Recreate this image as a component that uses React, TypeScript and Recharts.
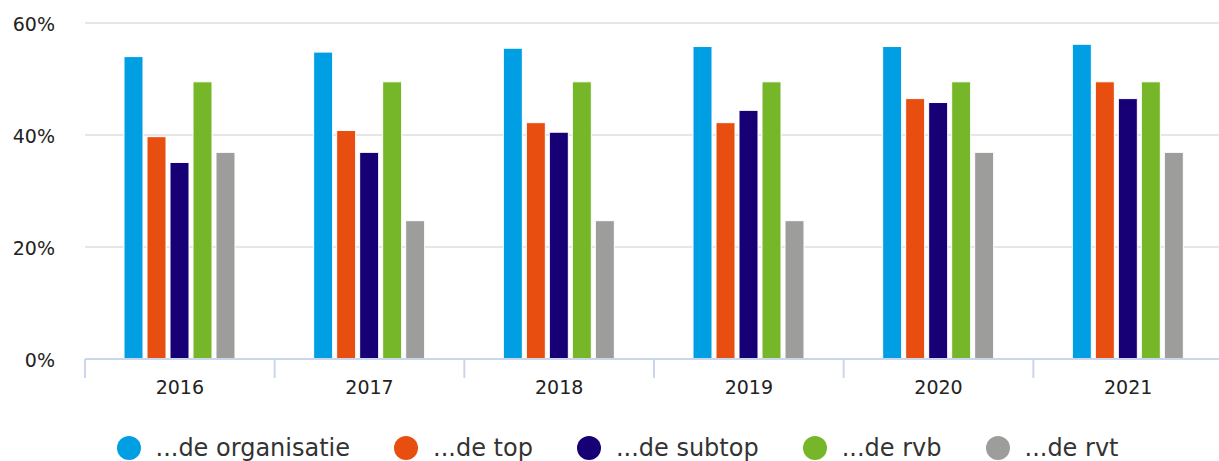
import React from 'react';
import { BarChart, Bar, XAxis, YAxis, CartesianGrid, Legend } from 'recharts';

const years = ['2016', '2017', '2018', '2019', '2020', '2021'];
const organisatie = [54.0, 54.8, 55.5, 55.8, 55.8, 56.2];
const top = [39.7, 40.8, 42.2, 42.2, 46.5, 49.5];
const subtop = [35.1, 36.9, 40.5, 44.4, 45.8, 46.5];
const rvb = [49.5, 49.5, 49.5, 49.5, 49.5, 49.5];
const rvt = [36.9, 24.7, 24.7, 24.7, 36.9, 36.9];
const yTicks = [0, 20, 40, 60];

const series = [
  { key: 'organisatie', name: '...de organisatie', color: '#009fe3' },
  { key: 'top', name: '...de top', color: '#e84e10' },
  { key: 'subtop', name: '...de subtop', color: '#170075' },
  { key: 'rvb', name: '...de rvb', color: '#76b72a' },
  { key: 'rvt', name: '...de rvt', color: '#9d9d9c' },
];

const data = years.map((year, i) => ({
  year,
  organisatie: organisatie[i],
  top: top[i],
  subtop: subtop[i],
  rvb: rvb[i],
  rvt: rvt[i],
}));

const FONT = '"DejaVu Sans", Verdana, sans-serif';
const AXIS_COLOR = '#ccd6eb';

const YTick = ({ x, y, payload }: any) => (
  <text x={x} y={y + 7.5} textAnchor="end" fontSize={19} fontFamily={FONT} fill="#222">
    {payload.value}%
  </text>
);

const XTick = ({ x, y, payload, index, visibleTicksCount }: any) => {
  const half = payload.offset || 0;
  const isLast = index === visibleTicksCount - 1;
  return (
    <g>
      <line x1={x - half} x2={x - half} y1={y} y2={y + 19} stroke={AXIS_COLOR} strokeWidth={2} />
      {isLast && <line x1={x + half} x2={x + half} y1={y} y2={y + 19} stroke={AXIS_COLOR} strokeWidth={2} />}
      <text x={x} y={y + 35} textAnchor="middle" fontSize={19} fontFamily={FONT} fill="#222">
        {payload.value}
      </text>
    </g>
  );
};

// legend follows the series order, not recharts' sorted payload
const LegendContent = () => (
  <div style={{ display: 'flex', justifyContent: 'center', alignItems: 'center', fontFamily: FONT, fontSize: 24, color: '#333' }}>
    {series.map((s, i) => (
      <div key={s.key} style={{ display: 'flex', alignItems: 'center', marginLeft: i ? 44 : 0 }}>
        <span style={{ width: 24, height: 24, borderRadius: '50%', background: s.color, marginRight: 15, display: 'inline-block' }} />
        <span style={{ lineHeight: '24px', whiteSpace: 'nowrap' }}>{s.name}</span>
      </div>
    ))}
  </div>
);

export default function App() {
  return (
    <div style={{ position: 'absolute', left: 0, top: 0, width: 1219, height: 461, overflow: 'hidden', background: '#fff' }}>
      <BarChart
        width={1240}
        height={461}
        data={data}
        margin={{ top: 23, right: 17, left: 0, bottom: 0 }}
        barSize={19}
        barGap={4}
      >
        <CartesianGrid horizontal vertical={false} stroke="#e6e6e6" strokeWidth={2} />
        <XAxis
          dataKey="year"
          height={102}
          tickLine={false}
          tickSize={0}
          tickMargin={0}
          axisLine={{ stroke: AXIS_COLOR, strokeWidth: 2 }}
          tick={<XTick />}
          interval={0}
        />
        <YAxis
          width={85}
          domain={[0, 60]}
          ticks={yTicks}
          axisLine={false}
          tickLine={false}
          tickSize={0}
          tickMargin={30}
          tick={<YTick />}
        />
        <Legend
          layout="horizontal"
          verticalAlign="middle"
          align="center"
          content={<LegendContent />}
          wrapperStyle={{ left: 0, top: 436, width: 1235 }}
        />
        {series.map((s) => (
          <Bar
            key={s.key}
            dataKey={s.key}
            name={s.name}
            fill={s.color}
            stroke="#ffffff"
            strokeWidth={1}
            isAnimationActive={false}
          />
        ))}
      </BarChart>
    </div>
  );
}
